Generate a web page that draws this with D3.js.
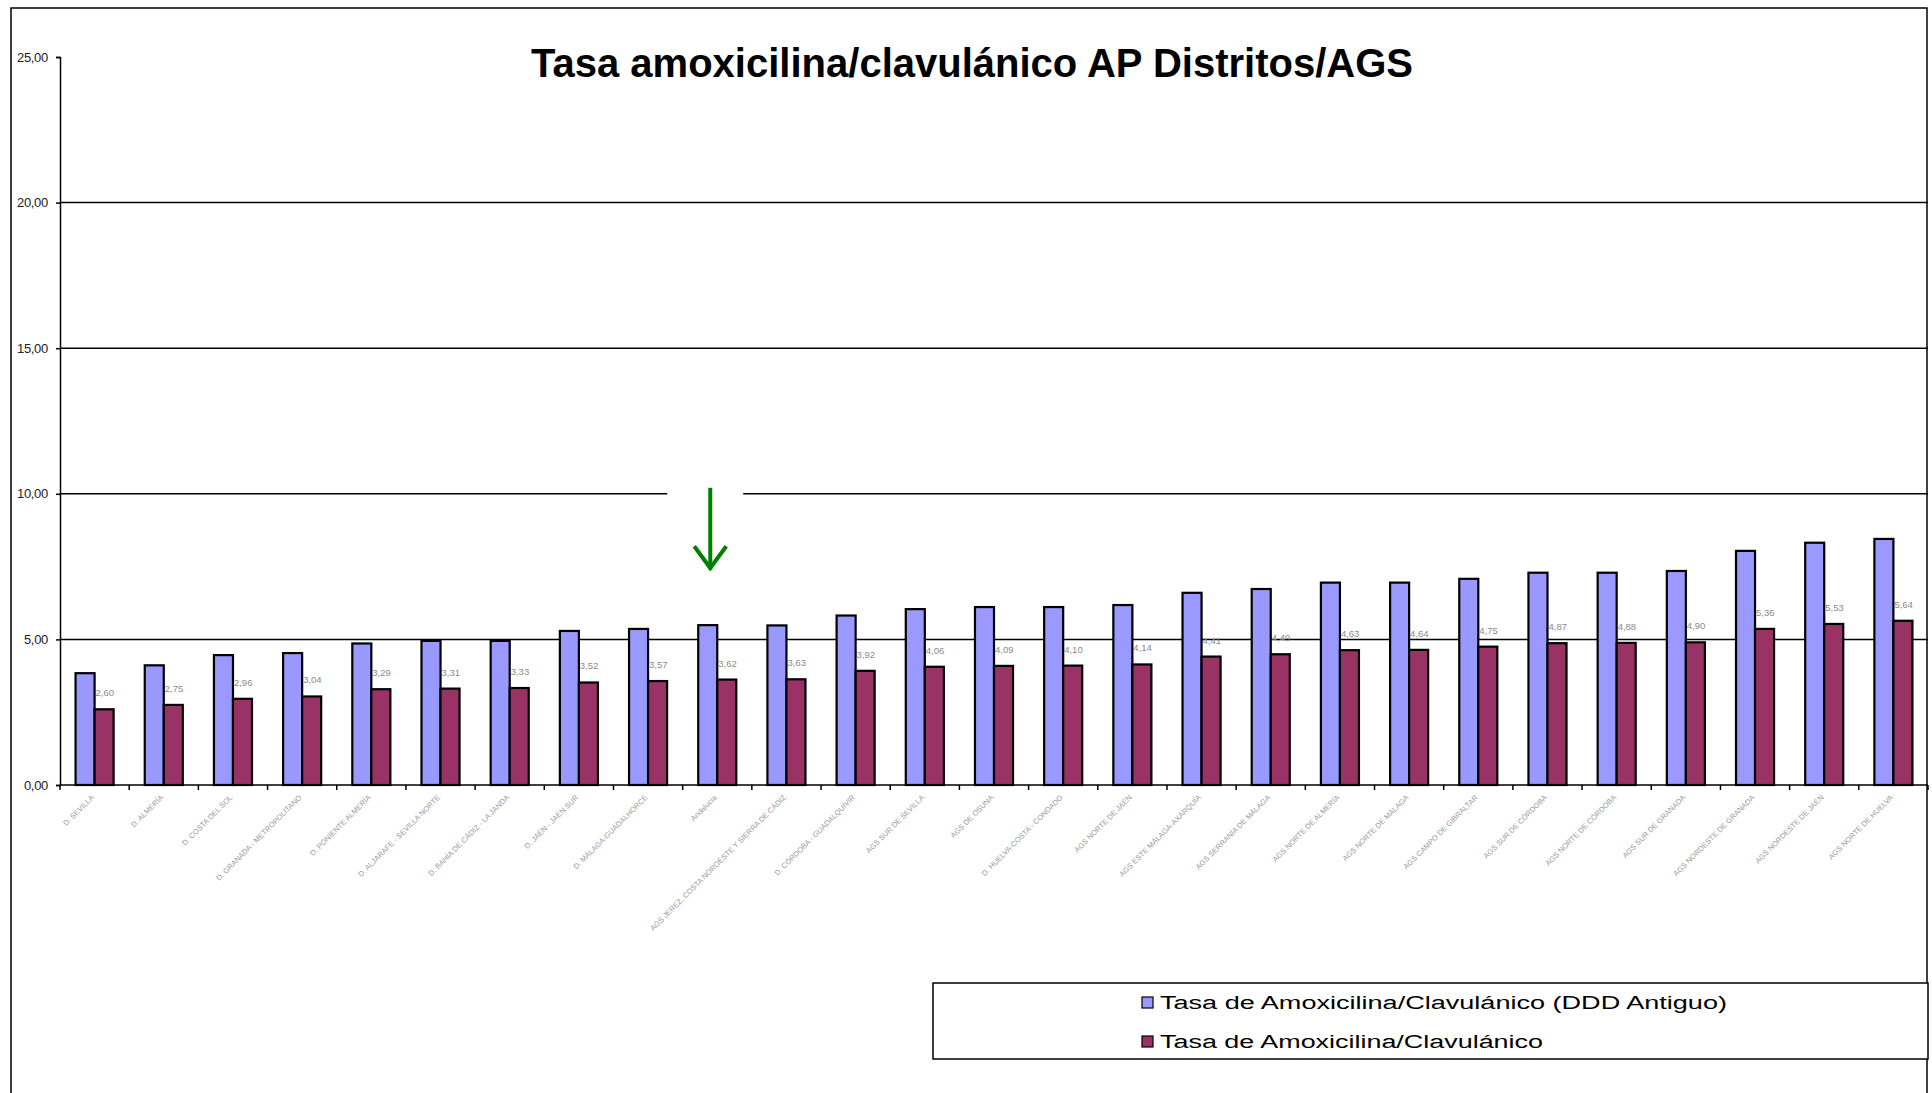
<!DOCTYPE html>
<html>
<head>
<meta charset="utf-8">
<script src="https://cdn.jsdelivr.net/npm/d3@7"></script>
<style>
  html, body { margin: 0; padding: 0; background: #fff; }
  svg { display: block; font-family: "Liberation Sans", Arial, sans-serif; }
</style>
</head>
<body>
<script>
const categories = [
  "D. SEVILLA", "D. ALMERÍA", "D. COSTA DEL SOL", "D. GRANADA - METROPOLITANO",
  "D. PONIENTE ALMERÍA", "D. ALJARAFE - SEVILLA NORTE", "D. BAHÍA DE CÁDIZ - LA JANDA",
  "D. JAÉN - JAÉN SUR", "D. MÁLAGA-GUADALHORCE", "Andalucía",
  "AGS JEREZ, COSTA NOROESTE Y SIERRA DE CÁDIZ", "D. CÓRDOBA - GUADALQUIVIR",
  "AGS SUR DE SEVILLA", "AGS DE OSUNA", "D. HUELVA-COSTA - CONDADO",
  "AGS NORTE DE JAÉN", "AGS ESTE MÁLAGA-AXARQUÍA", "AGS SERRANÍA DE MÁLAGA",
  "AGS NORTE DE ALMERÍA", "AGS NORTE DE MÁLAGA", "AGS CAMPO DE GIBRALTAR",
  "AGS SUR DE CÓRDOBA", "AGS NORTE DE CÓRDOBA", "AGS SUR DE GRANADA",
  "AGS NORDESTE DE GRANADA", "AGS NORDESTE DE JAÉN", "AGS NORTE DE HUELVA"
];
const serieAntiguo = [
  3.84, 4.11, 4.46, 4.53, 4.86, 4.95, 4.95, 5.29, 5.36, 5.49,
  5.48, 5.82, 6.04, 6.11, 6.11, 6.18, 6.60, 6.73, 6.95, 6.95,
  7.08, 7.29, 7.29, 7.35, 8.04, 8.32, 8.45
];
const serieActual = [
  2.60, 2.75, 2.96, 3.04, 3.29, 3.31, 3.33, 3.52, 3.57, 3.62,
  3.63, 3.92, 4.06, 4.09, 4.10, 4.14, 4.41, 4.49, 4.63, 4.64,
  4.75, 4.87, 4.88, 4.90, 5.36, 5.53, 5.64
];
const yTicks = [0, 5, 10, 15, 20, 25];
const gridValues = [5, 10, 15, 20];
const seriesNames = [
  "Tasa de Amoxicilina/Clavulánico (DDD Antiguo)",
  "Tasa de Amoxicilina/Clavulánico"
];
const seriesColors = ["#9999FF", "#993366"];
const title = "Tasa amoxicilina/clavulánico AP Distritos/AGS";

const W = 1932, H = 1093;
const plot = { left: 60, right: 1928, top: 57, bottom: 785 };
const fmt = v => v.toFixed(2).replace(".", ",");

const svg = d3.select("body").append("svg").attr("width", W).attr("height", H);
svg.append("rect").attr("width", W).attr("height", H).attr("fill", "#fff");

// outer chart border
svg.append("rect")
  .attr("x", 11).attr("y", 8).attr("width", 1916).attr("height", 1100)
  .attr("fill", "none").attr("stroke", "#000").attr("stroke-width", 1.5);

// title
svg.append("text")
  .attr("x", 972).attr("y", 77)
  .attr("text-anchor", "middle")
  .attr("font-size", 40).attr("font-weight", "bold")
  .attr("textLength", 882).attr("lengthAdjust", "spacingAndGlyphs")
  .text(title);

const x = d3.scaleBand().domain(categories).range([plot.left, plot.right]).padding(0);
const bw = x.bandwidth();
const x1 = d3.scaleBand().domain([0, 1]).range([bw * 0.225, bw * 0.775]).padding(0);
const y = d3.scaleLinear().domain([0, 25]).range([plot.bottom, plot.top]);

// gridlines
svg.append("g").selectAll("line").data(gridValues).join("line")
  .attr("x1", plot.left).attr("x2", plot.right)
  .attr("y1", d => y(d)).attr("y2", d => y(d))
  .attr("stroke", "#000").attr("stroke-width", 1.5);

// y axis
const yAxis = svg.append("g")
  .attr("transform", `translate(${plot.left},0)`)
  .call(d3.axisLeft(y).tickValues(yTicks).tickSize(4).tickPadding(8).tickFormat(fmt));
yAxis.select(".domain").attr("stroke", "#000").attr("stroke-width", 1.5);
yAxis.selectAll(".tick line").attr("stroke", "#000").attr("stroke-width", 1.5);
yAxis.selectAll(".tick text")
  .attr("font-family", "Liberation Sans, Arial, sans-serif")
  .attr("font-size", 13).attr("fill", "#222")
  .attr("letter-spacing", -0.3);

// bars
const groups = svg.append("g").selectAll("g").data(categories).join("g")
  .attr("transform", d => `translate(${x(d)},0)`);
const seriesData = [serieAntiguo, serieActual];
groups.selectAll("rect").data((d, i) => seriesData.map((s, k) => ({ k, v: s[i] }))).join("rect")
  .attr("x", d => x1(d.k))
  .attr("width", x1.bandwidth())
  .attr("y", d => y(d.v))
  .attr("height", d => y(0) - y(d.v))
  .attr("fill", d => seriesColors[d.k])
  .attr("stroke", "#000").attr("stroke-width", 2.2);

// data labels (second series)
groups.append("text")
  .attr("x", (d, i) => x1(1) + 1)
  .attr("y", (d, i) => y(serieActual[i]) - 13)
  .attr("font-size", 9.5).attr("fill", "#8a8a8a")
  .text((d, i) => fmt(serieActual[i]));

// x axis line and boundary ticks
svg.append("line")
  .attr("x1", plot.left).attr("x2", plot.right)
  .attr("y1", y(0)).attr("y2", y(0))
  .attr("stroke", "#000").attr("stroke-width", 1.5);
const boundaries = categories.map(c => x(c)).concat([x(categories[categories.length - 1]) + bw]);
svg.append("g").selectAll("line").data(boundaries).join("line")
  .attr("x1", d => d).attr("x2", d => d)
  .attr("y1", y(0)).attr("y2", y(0) + 5)
  .attr("stroke", "#000").attr("stroke-width", 1.5);

// x labels rotated
svg.append("g").selectAll("text").data(categories).join("text")
  .attr("transform", d => `translate(${x(d) + bw / 2},${y(0) + 13}) rotate(-45)`)
  .attr("text-anchor", "end")
  .attr("font-size", 7.5).attr("fill", "#9a9a9a")
  .text(d => d);

// green arrow annotation over "Andalucía" (white box interrupts gridline)
const ax = x("Andalucía") + bw / 2 - 7;
svg.append("rect")
  .attr("x", ax - 43).attr("y", y(10) - 6).attr("width", 76).attr("height", 12)
  .attr("fill", "#fff");
svg.append("line")
  .attr("x1", ax).attr("x2", ax).attr("y1", y(10) - 6).attr("y2", y(7.4))
  .attr("stroke", "#008000").attr("stroke-width", 4);
svg.append("path")
  .attr("d", `M${ax - 16},${y(8.2)} L${ax},${y(7.45)} L${ax + 16},${y(8.2)}`)
  .attr("fill", "none").attr("stroke", "#008000").attr("stroke-width", 4)
  .attr("stroke-linejoin", "miter");

// legend
const lg = svg.append("g");
lg.append("rect")
  .attr("x", 933).attr("y", 983).attr("width", 995).attr("height", 76)
  .attr("fill", "#fff").attr("stroke", "#000").attr("stroke-width", 1.5);
const legendLengths = [567, 383];
seriesNames.forEach((name, k) => {
  const cy = 1003 + k * 39;
  lg.append("rect")
    .attr("x", 1142).attr("y", cy - 6).attr("width", 11).attr("height", 11)
    .attr("fill", seriesColors[k]).attr("stroke", "#000").attr("stroke-width", 1.2);
  lg.append("text")
    .attr("x", 1160).attr("y", cy + 6)
    .attr("font-size", 18).attr("fill", "#000")
    .attr("textLength", legendLengths[k]).attr("lengthAdjust", "spacingAndGlyphs")
    .text(name);
});
</script>
</body>
</html>
